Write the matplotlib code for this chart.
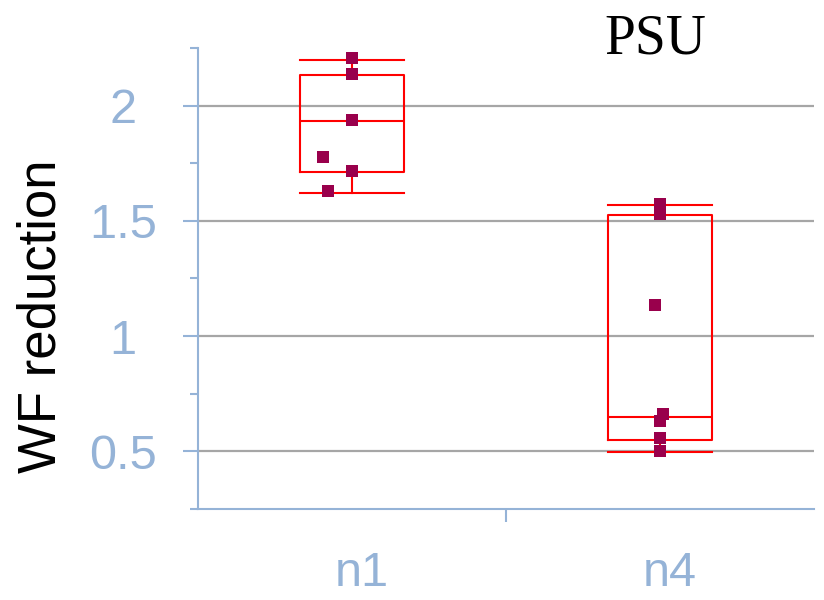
import matplotlib
matplotlib.use('Agg')
import matplotlib.pyplot as plt
import matplotlib.transforms as mtransforms
import numpy as np

# data
categories = ['n1', 'n4']
n1_vals = [2.205, 2.139, 1.938, 1.775, 1.717, 1.628]
n1_jitter = [0.0, 0.0, 0.0, -0.094, 0.0, -0.078]
n4_vals = [1.574, 1.531, 1.133, 0.660, 0.632, 0.556, 0.500]
n4_jitter = [0.0, 0.0, -0.016, 0.01, 0.0, 0.0, 0.0]

# box stats (whisker low, q1, median, q3, whisker high)
n1_box = [1.622, 1.713, 1.934, 2.134, 2.198]
n4_box = [0.498, 0.550, 0.651, 1.527, 1.570]

axis_col = '#95b3d7'
box_col = '#ff0000'
pt_col = '#99004c'

plt.rcParams['font.family'] = ['Liberation Sans', 'DejaVu Sans']

fig = plt.figure(figsize=(8.24, 6.0), dpi=100)
ax = fig.add_axes([0.2403, 0.1517, 0.7476, 0.7683])

stats = []
for name, b in zip(categories, [n1_box, n4_box]):
    stats.append(dict(label=name, whislo=b[0], q1=b[1], med=b[2], q3=b[3], whishi=b[4], fliers=[]))

lw = 1.5
ax.bxp(stats, positions=[1, 2], widths=0.34, capwidths=0.34, showfliers=False,
       boxprops=dict(color=box_col, linewidth=lw),
       whiskerprops=dict(color=box_col, linewidth=lw),
       capprops=dict(color=box_col, linewidth=lw),
       medianprops=dict(color=box_col, linewidth=lw), zorder=3)

for pos, vals, jit in [(1, n1_vals, n1_jitter), (2, n4_vals, n4_jitter)]:
    xs = pos + np.array(jit)
    ax.plot(xs, vals, ls='none', marker='s', ms=8.5, mew=0, color=pt_col, zorder=5)

ax.set_xlim(0.5, 2.5)
ax.set_ylim(0.25, 2.25)

ax.set_yticks([0.5, 1, 1.5, 2])
ax.set_yticklabels(['0.5', '1', '1.5', '2'])
ax.set_yticks([0.25, 0.75, 1.25, 1.75, 2.25], minor=True)
ax.tick_params(axis='y', which='major', length=11, width=1.5, color=axis_col,
               labelcolor=axis_col, labelsize=35, pad=43)
ax.tick_params(axis='y', which='minor', length=6, width=1.5, color=axis_col)
for lab in ax.get_yticklabels():
    lab.set_ha('center')

ax.set_xticks([1, 2])
ax.set_xticklabels(categories)
ax.set_xticks([1.5], minor=True)
ax.tick_params(axis='x', which='major', length=0, labelcolor=axis_col, labelsize=35, pad=30)
ax.tick_params(axis='x', which='minor', length=9, width=1.5, color=axis_col)
shift = mtransforms.ScaledTranslation(10 / 100, 0, fig.dpi_scale_trans)
for lab in ax.get_xticklabels():
    lab.set_transform(lab.get_transform() + shift)

ax.yaxis.grid(True, color='#a6a6a6', linewidth=1.6)
ax.set_axisbelow(True)

for s in ['top', 'right']:
    ax.spines[s].set_visible(False)
for s in ['left', 'bottom']:
    ax.spines[s].set_color(axis_col)
    ax.spines[s].set_linewidth(1.5)

fig.text(42 / 824, 1 - 316 / 600, 'WF reduction', rotation=90, ha='center', va='center',
         fontsize=38, color='black')
fig.text(655 / 824, 1 - 53 / 600, 'PSU', ha='center', va='baseline', fontsize=40,
         family='Liberation Serif', color='black')

fig.savefig('out.png', dpi=100)
